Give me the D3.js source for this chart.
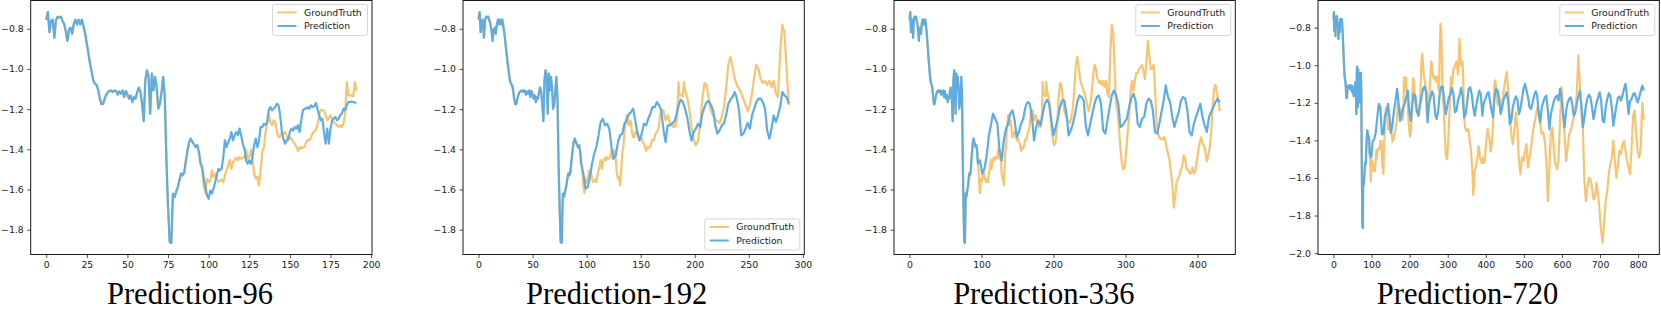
<!DOCTYPE html>
<html><head><meta charset="utf-8">
<script src="https://cdn.jsdelivr.net/npm/d3@7"></script>
<style>body{margin:0;background:#fff}svg{display:block}</style>
</head><body>
<svg id="c" width="1661" height="310"></svg>
<script>
// Ground truth, x = 0..191 (step 1); x = 0..95 is the input history
const gtNear = [
-0.755,-0.717,-0.817,-0.76,-0.755,-0.845,-0.76,-0.74,-0.745,-0.74,
-0.76,-0.775,-0.81,-0.86,-0.805,-0.795,-0.825,-0.775,-0.755,-0.778,
-0.755,-0.778,-0.755,-0.79,-0.825,-0.875,-0.925,-0.975,-1.015,-1.057,
-1.074,-1.08,-1.105,-1.148,-1.176,-1.173,-1.148,-1.127,-1.115,-1.11,
-1.107,-1.115,-1.107,-1.11,-1.128,-1.112,-1.123,-1.107,-1.14,-1.11,
-1.127,-1.148,-1.132,-1.165,-1.14,-1.148,-1.115,-1.093,-1.115,-1.173,
-1.26,-1.057,-1.007,-1.04,-1.223,-1.023,-1.107,-1.04,-1.09,-1.198,
-1.173,-1.115,-1.04,-1.14,-1.455,-1.687,-1.861,-1.866,-1.62,-1.638,
-1.612,-1.588,-1.555,-1.52,-1.53,-1.513,-1.455,-1.405,-1.364,-1.347,
-1.364,-1.375,-1.389,-1.38,-1.413,-1.47,
-1.505,-1.588,-1.618,-1.547,-1.563,-1.555,-1.505,-1.538,-1.52,-1.547,
-1.563,-1.555,-1.55,-1.563,-1.53,-1.505,-1.48,-1.452,-1.497,-1.464,
-1.452,-1.442,-1.455,-1.438,-1.447,-1.443,-1.438,-1.402,-1.447,-1.438,
-1.402,-1.455,-1.52,-1.547,-1.535,-1.58,-1.505,-1.413,-1.389,-1.314,
-1.273,-1.23,-1.265,-1.28,-1.256,-1.265,-1.314,-1.34,-1.34,-1.314,
-1.322,-1.314,-1.33,-1.356,-1.34,-1.347,-1.364,-1.372,-1.389,-1.408,
-1.389,-1.397,-1.389,-1.389,-1.364,-1.352,-1.356,-1.34,-1.319,-1.314,
-1.302,-1.28,-1.23,-1.203,-1.206,-1.206,-1.23,-1.256,-1.247,-1.23,
-1.247,-1.265,-1.273,-1.28,-1.289,-1.28,-1.289,-1.27,-1.223,-1.065,
-1.132,-1.132,-1.132,-1.137,-1.065,-1.107
];
// Ground truth, x = 193..431 (step 2)
const gtMid = [
-1.14,-1.20,-1.29,-1.35,-1.38,-1.36,-1.28,-1.15,-1.07,-1.08,
-1.15,-1.21,-1.23,-1.25,-1.26,-1.27,-1.24,-1.19,-1.10,-0.98,
-0.94,-0.99,-1.05,-1.08,-1.10,-1.12,-1.15,-1.18,-1.21,-1.18,
-1.12,-1.04,-0.98,-1.00,-1.05,-1.07,-1.06,-1.08,-1.06,-1.09,
-1.06,-1.12,-1.14,-0.92,-0.78,-0.82,-1.00,-1.18,-1.21,-1.30,
-1.40,-1.47,-1.50,-1.49,-1.41,-1.32,-1.24,-1.12,-1.06,-1.11,
-1.06,-1.02,-1.02,-1.00,-0.99,-0.98,-1.01,-1.05,-0.97,-0.86,
-0.93,-1.00,-1.00,-0.98,-1.09,-1.26,-1.32,-1.34,-1.35,-1.35,
-1.34,-1.35,-1.39,-1.42,-1.45,-1.51,-1.57,-1.69,-1.64,-1.56,
-1.55,-1.53,-1.50,-1.48,-1.43,-1.45,-1.50,-1.50,-1.52,-1.52,
-1.49,-1.52,-1.51,-1.46,-1.41,-1.37,-1.34,-1.37,-1.38,-1.41,
-1.46,-1.43,-1.39,-1.32,-1.19,-1.10,-1.08,-1.12,-1.16,-1.21
];
// Ground truth, x = 435..815 (step 4)
const gtFar = [
-1.171,-1.224,-1.206,-1.135,-1.082,-1.037,-1.135,-1.269,-1.367,-1.42,
-1.349,-1.251,-1.331,-1.509,-1.581,-1.492,-1.509,-1.456,-1.42,-1.545,
-1.492,-1.438,-1.367,-1.313,-1.278,-1.224,-1.242,-1.313,-1.367,-1.358,
-1.403,-1.509,-1.723,-1.545,-1.349,-1.331,-1.456,-1.527,-1.554,-1.509,
-1.296,-1.117,-1.278,-1.367,-1.509,-1.438,-1.367,-1.349,-1.313,-1.278,
-1.242,-1.153,-0.948,-1.099,-1.242,-1.349,-1.616,-1.723,-1.652,-1.599,
-1.607,-1.652,-1.714,-1.705,-1.625,-1.688,-1.777,-1.884,-1.946,-1.83,
-1.723,-1.67,-1.581,-1.527,-1.492,-1.403,-1.509,-1.599,-1.536,-1.456,
-1.474,-1.42,-1.403,-1.456,-1.509,-1.545,-1.581,-1.438,-1.269,-1.242,
-1.367,-1.456,-1.492,-1.438,-1.20,-1.29
];
// Predictions (x = start, start+step, ...)
const pred96 = [ // x = 96..191
-1.488,-1.547,-1.588,-1.63,-1.646,-1.605,-1.62,-1.596,-1.563,-1.53,
-1.497,-1.505,-1.497,-1.438,-1.356,-1.389,-1.364,-1.347,-1.314,-1.356,
-1.33,-1.314,-1.33,-1.297,-1.33,-1.372,-1.397,-1.455,-1.472,-1.455,
-1.472,-1.438,-1.38,-1.347,-1.389,-1.356,-1.289,-1.289,-1.273,-1.28,
-1.265,-1.206,-1.19,-1.206,-1.198,-1.19,-1.173,-1.181,-1.23,-1.306,
-1.347,-1.372,-1.356,-1.347,-1.314,-1.297,-1.306,-1.289,-1.297,-1.28,
-1.314,-1.256,-1.206,-1.198,-1.198,-1.19,-1.198,-1.181,-1.19,-1.186,
-1.17,-1.198,-1.23,-1.256,-1.247,-1.314,-1.372,-1.297,-1.372,-1.297,
-1.256,-1.247,-1.239,-1.256,-1.247,-1.23,-1.223,-1.198,-1.206,-1.181,
-1.165,-1.165,-1.162,-1.165,-1.168,-1.168
];
const pred192 = [ // x = 97..287 step 2
-1.521,-1.596,-1.588,-1.538,-1.472,-1.422,-1.389,-1.331,-1.264,-1.248,
-1.281,-1.272,-1.298,-1.389,-1.447,-1.43,-1.364,-1.331,-1.322,-1.272,
-1.256,-1.226,-1.215,-1.198,-1.256,-1.322,-1.356,-1.322,-1.272,-1.281,
-1.248,-1.223,-1.19,-1.19,-1.165,-1.181,-1.206,-1.298,-1.364,-1.281,
-1.281,-1.272,-1.264,-1.231,-1.181,-1.153,-1.165,-1.198,-1.239,-1.306,
-1.356,-1.314,-1.298,-1.273,-1.289,-1.223,-1.19,-1.165,-1.16,-1.181,
-1.206,-1.281,-1.322,-1.306,-1.281,-1.272,-1.231,-1.173,-1.153,-1.14,
-1.115,-1.148,-1.206,-1.331,-1.322,-1.298,-1.269,-1.298,-1.231,-1.198,
-1.165,-1.148,-1.148,-1.165,-1.198,-1.306,-1.347,-1.298,-1.231,-1.264,
-1.231,-1.19,-1.115,-1.132,-1.14,-1.173
];
const pred336 = [ // x = 98..431 step 3
-1.455,-1.521,-1.497,-1.438,-1.339,-1.281,-1.223,-1.248,-1.273,-1.405,
-1.455,-1.356,-1.298,-1.273,-1.223,-1.206,-1.256,-1.339,-1.314,-1.273,
-1.248,-1.19,-1.165,-1.173,-1.239,-1.356,-1.289,-1.256,-1.281,-1.223,
-1.173,-1.153,-1.173,-1.256,-1.331,-1.289,-1.248,-1.19,-1.157,-1.157,
-1.223,-1.331,-1.306,-1.273,-1.223,-1.165,-1.132,-1.14,-1.157,-1.289,
-1.331,-1.273,-1.223,-1.173,-1.14,-1.132,-1.173,-1.306,-1.322,-1.256,
-1.19,-1.132,-1.107,-1.132,-1.173,-1.289,-1.281,-1.264,-1.248,-1.19,
-1.148,-1.123,-1.157,-1.273,-1.289,-1.248,-1.239,-1.173,-1.148,-1.157,
-1.206,-1.314,-1.322,-1.273,-1.215,-1.157,-1.082,-1.14,-1.165,-1.239,
-1.289,-1.248,-1.215,-1.157,-1.14,-1.148,-1.206,-1.314,-1.331,-1.273,
-1.239,-1.206,-1.173,-1.239,-1.281,-1.314,-1.239,-1.215,-1.19,-1.165,
-1.148,-1.165
];
const pred720 = [ // x = 99..815 step 4
-1.492,-1.403,-1.394,-1.358,-1.278,-1.206,-1.224,-1.367,-1.367,-1.269,
-1.251,-1.206,-1.278,-1.358,-1.313,-1.242,-1.189,-1.126,-1.206,-1.296,
-1.26,-1.224,-1.206,-1.171,-1.135,-1.242,-1.296,-1.206,-1.153,-1.162,
-1.242,-1.269,-1.215,-1.171,-1.126,-1.114,-1.144,-1.304,-1.206,-1.171,
-1.139,-1.162,-1.26,-1.287,-1.242,-1.153,-1.114,-1.114,-1.189,-1.26,
-1.215,-1.171,-1.157,-1.121,-1.153,-1.251,-1.242,-1.189,-1.162,-1.121,
-1.162,-1.278,-1.26,-1.198,-1.126,-1.117,-1.153,-1.224,-1.269,-1.215,
-1.171,-1.135,-1.157,-1.269,-1.198,-1.18,-1.153,-1.144,-1.189,-1.242,
-1.278,-1.171,-1.126,-1.135,-1.18,-1.26,-1.224,-1.18,-1.162,-1.144,
-1.198,-1.313,-1.296,-1.224,-1.189,-1.166,-1.184,-1.26,-1.233,-1.18,
-1.126,-1.099,-1.135,-1.171,-1.224,-1.233,-1.198,-1.162,-1.139,-1.162,
-1.26,-1.304,-1.224,-1.198,-1.171,-1.162,-1.242,-1.34,-1.26,-1.224,
-1.189,-1.171,-1.162,-1.189,-1.126,-1.171,-1.26,-1.331,-1.242,-1.198,
-1.18,-1.171,-1.206,-1.269,-1.251,-1.206,-1.166,-1.135,-1.206,-1.331,
-1.278,-1.215,-1.175,-1.157,-1.171,-1.224,-1.287,-1.242,-1.198,-1.171,
-1.144,-1.189,-1.296,-1.304,-1.224,-1.18,-1.149,-1.162,-1.224,-1.322,
-1.269,-1.215,-1.175,-1.166,-1.189,-1.162,-1.126,-1.099,-1.171,-1.26,
-1.189,-1.18,-1.153,-1.149,-1.175,-1.198,-1.171,-1.139,-1.108,-1.135
];
const titles = ["Prediction-96","Prediction-192","Prediction-336","Prediction-720"];
const horizons = [96,192,336,720];
const xTicks = [
  [0,25,50,75,100,125,150,175,200],
  [0,50,100,150,200,250,300],
  [0,100,200,300,400],
  [0,100,200,300,400,500,600,700,800]
];
const yTicksA = [-1.8,-1.6,-1.4,-1.2,-1.0,-0.8];
const yTicksB = [-2.0,-1.8,-1.6,-1.4,-1.2,-1.0,-0.8];
const legendNames = ["GroundTruth","Prediction"];

// ---- presentation ----
const preds = [
  {vals:pred96, x0:96, step:1},
  {vals:pred192, x0:97, step:2},
  {vals:pred336, x0:98, step:3},
  {vals:pred720, x0:99, step:4}
];
const layout = [
  {left:30.7, titleX:190, legend:"top", yTicks:yTicksA},
  {left:463, titleX:616.7, legend:"bottom", yTicks:yTicksA},
  {left:894, titleX:1043.8, legend:"top", yTicks:yTicksA},
  {left:1318, titleX:1467.5, legend:"top", yTicks:yTicksB}
];
const W = 341.3, TOP = 0.5, H = 254;
const cGT = "#F8C471", cPR = "#5DADE2";
const tickFont = "'DejaVu Sans', sans-serif";

const gtAll = gtNear.map((v,i)=>[i,v])
  .concat(gtMid.map((v,i)=>[193+2*i,v]))
  .concat(gtFar.map((v,i)=>[435+4*i,v]));
const history = gtNear.slice(0,96).map((v,i)=>[i,v]);

const svg = d3.select("#c");
horizons.forEach((h,k)=>{
  const L = layout[k], P = preds[k];
  const end = 95 + h;
  const gt = gtAll.filter(d=>d[0] <= end);
  const pr = history.concat(P.vals.map((v,i)=>[P.x0 + P.step*i, v]));
  const all = gt.concat(pr);
  const xe = d3.extent(all, d=>d[0]), ye = d3.extent(all, d=>d[1]);
  const xp = (xe[1]-xe[0])*0.05, yp = (ye[1]-ye[0])*0.05;
  const x = d3.scaleLinear([xe[0]-xp, xe[1]+xp], [L.left, L.left+W]);
  const y = d3.scaleLinear([ye[0]-yp, ye[1]+yp], [TOP+H, TOP]);
  const g = svg.append("g");
  const line = d3.line().x(d=>x(d[0])).y(d=>y(d[1]));

  g.append("path").attr("d", line(gt)).attr("fill","none")
    .attr("stroke", cGT).attr("stroke-width", 2.2).attr("stroke-linejoin","round");
  g.append("path").attr("d", line(pr)).attr("fill","none")
    .attr("stroke", cPR).attr("stroke-width", 2.2).attr("stroke-linejoin","round");

  const xa = g.append("g").attr("transform", `translate(0,${TOP+H})`)
    .call(d3.axisBottom(x).tickValues(xTicks[k]).tickFormat(d3.format("d")).tickSize(3.5).tickPadding(3.5));
  const ya = g.append("g").attr("transform", `translate(${L.left},0)`)
    .call(d3.axisLeft(y).tickValues(L.yTicks).tickFormat(d3.format(".1f")).tickSize(3.5).tickPadding(3.5));
  [xa, ya].forEach(a=>{
    a.select(".domain").remove();
    a.attr("font-family", tickFont).attr("font-size", 9.3);
    a.selectAll(".tick line").attr("stroke", "#222").attr("stroke-width", 0.8);
    a.selectAll(".tick text").attr("fill", "#1a1a1a");
  });

  g.append("rect").attr("x", L.left).attr("y", TOP).attr("width", W).attr("height", H)
    .attr("fill","none").attr("stroke","#1a1a1a").attr("stroke-width",1);

  // legend
  const lw = 95, lh = 31;
  const lx = L.left + W - 4.5 - lw;
  const ly = L.legend === "top" ? TOP + 4 : TOP + H - 4.5 - lh;
  const lg = g.append("g");
  lg.append("rect").attr("x", lx).attr("y", ly).attr("width", lw).attr("height", lh)
    .attr("rx", 2).attr("fill", "#fff").attr("fill-opacity", 0.8)
    .attr("stroke", "#d6d6d6").attr("stroke-width", 1);
  [cGT, cPR].forEach((c,i)=>{
    const ry = ly + 8 + i*13.5;
    lg.append("line").attr("x1", lx+5).attr("x2", lx+24).attr("y1", ry).attr("y2", ry)
      .attr("stroke", c).attr("stroke-width", 2);
    lg.append("text").attr("x", lx+31.5).attr("y", ry+3.4).text(legendNames[i])
      .attr("font-family", tickFont).attr("font-size", 9.3).attr("fill", "#1a1a1a");
  });

  svg.append("text").attr("x", L.titleX).attr("y", 303.5).attr("text-anchor","middle")
    .attr("font-family", "'Liberation Serif', 'Times New Roman', serif").attr("font-size", 30.5)
    .attr("fill", "#000").text(titles[k]);
});
</script>
</body></html>
